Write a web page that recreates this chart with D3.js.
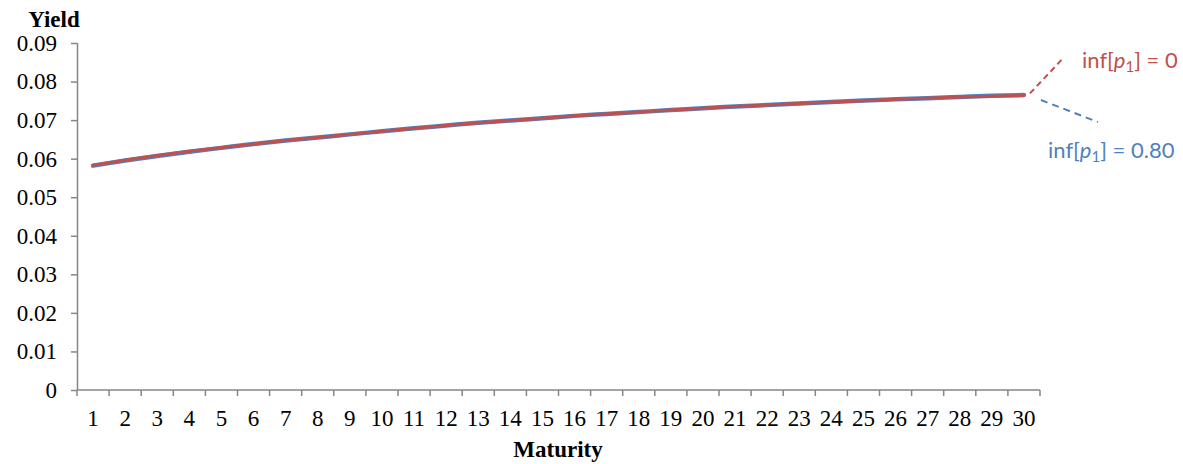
<!DOCTYPE html>
<html>
<head>
<meta charset="utf-8">
<script src="https://cdn.jsdelivr.net/npm/d3@7/dist/d3.min.js"></script>
<style>
  html, body { margin: 0; padding: 0; background: #fff; }
  svg { display: block; }
</style>
</head>
<body>
<svg id="chart" width="1183" height="464"></svg>
<script>
// ---- data ----
const maturities = d3.range(1, 31);
const yieldRed = [0.0583,0.0596,0.0608,0.0619,0.0629,0.0638,0.0647,0.0655,0.0663,0.0671,
                  0.0679,0.0686,0.0693,0.0699,0.0705,0.0711,0.0716,0.0721,0.0726,0.0731,
                  0.0735,0.0739,0.0743,0.0747,0.0750,0.0754,0.0757,0.0760,0.0762,0.0764];
const yieldBlue = [0.0582,0.0595,0.0607,0.0618,0.0628,0.0638,0.0647,0.0655,0.0663,0.0671,
                   0.0679,0.0686,0.0693,0.0699,0.0705,0.0711,0.0716,0.0721,0.0726,0.0731,
                   0.0735,0.0739,0.0743,0.0747,0.0751,0.0754,0.0757,0.0760,0.0763,0.0765];
const yTicks = [0,0.01,0.02,0.03,0.04,0.05,0.06,0.07,0.08,0.09];
const yTickLabels = ["0","0.01","0.02","0.03","0.04","0.05","0.06","0.07","0.08","0.09"];
const labelRed = "0";
const labelBlue = "0.80";

// ---- layout ----
const svg = d3.select("#chart");
const mLeft = 77, mRight = 1040, mTop = 43, mBottom = 390;
const axisColor = "#868686";
const serif = "'Liberation Serif', 'Times New Roman', serif";
const sans = "Lato, 'Open Sans', sans-serif";
const red = "#C0504D", blue = "#4F81BD";

const x = d3.scaleBand().domain(maturities).range([mLeft, mRight]).padding(0);
const y = d3.scaleLinear().domain([0, 0.09]).range([mBottom, mTop]);

// y axis
const yAxis = svg.append("g").attr("transform", `translate(${mLeft},0)`)
  .call(d3.axisLeft(y).tickValues(yTicks).tickFormat((d,i) => yTickLabels[i]).tickSizeOuter(0).tickSize(6).tickPadding(14));
yAxis.select(".domain").attr("stroke", axisColor).attr("stroke-width", 1.5)
  .attr("d", `M0.5,${mTop}V${mBottom}`);
yAxis.selectAll(".tick line").attr("stroke", axisColor).attr("stroke-width", 1.5);
yAxis.selectAll(".tick text").attr("font-family", serif).attr("font-size", 23).attr("fill", "#000");

// x axis with ticks at category boundaries
const xAxisG = svg.append("g").attr("transform", `translate(0,${mBottom})`);
xAxisG.append("line").attr("x1", mLeft).attr("x2", mRight).attr("y1", 0).attr("y2", 0)
  .attr("stroke", axisColor).attr("stroke-width", 1.5);
const bounds = maturities.map(m => x(m)).concat([mRight]);
xAxisG.selectAll("line.tk").data(bounds).join("line").attr("class","tk")
  .attr("x1", d => d).attr("x2", d => d).attr("y1", 0).attr("y2", 6)
  .attr("stroke", axisColor).attr("stroke-width", 1.5);
xAxisG.selectAll("text").data(maturities).join("text")
  .attr("x", d => x(d) + x.bandwidth()/2).attr("y", 36)
  .attr("text-anchor", "middle").attr("font-family", serif).attr("font-size", 23)
  .text(d => d);

// axis titles
svg.append("text").attr("x", 54).attr("y", 27).attr("text-anchor","middle")
  .attr("font-family", serif).attr("font-weight","bold").attr("font-size", 23).text("Yield");
svg.append("text").attr("x", 558).attr("y", 457).attr("text-anchor","middle")
  .attr("font-family", serif).attr("font-weight","bold").attr("font-size", 23).text("Maturity");

// lines
const line = d3.line().x((d,i) => x(maturities[i]) + x.bandwidth()/2).y(d => y(d)).curve(d3.curveMonotoneX);
svg.append("path").datum(yieldBlue).attr("d", line).attr("fill","none")
  .attr("stroke", blue).attr("stroke-width", 4.5).attr("stroke-linecap","round");
svg.append("path").datum(yieldRed).attr("d", line).attr("fill","none")
  .attr("stroke", red).attr("stroke-width", 3).attr("stroke-linecap","round");

// annotations
const ex = x(maturities[29]) + x.bandwidth()/2;
const eyR = y(yieldRed[29]), eyB = y(yieldBlue[29]);
svg.append("line").attr("x1", ex + 6).attr("y1", eyR - 2).attr("x2", ex + 38).attr("y2", eyR - 36)
  .attr("stroke", red).attr("stroke-width", 2).attr("stroke-dasharray", "6,4");
svg.append("line").attr("x1", ex + 17).attr("y1", eyB + 5).attr("x2", ex + 74).attr("y2", eyB + 27)
  .attr("stroke", blue).attr("stroke-width", 2).attr("stroke-dasharray", "7,5");

function infLabel(xp, yp, color, val) {
  const t = svg.append("text").attr("x", xp).attr("y", yp).attr("font-family", sans)
    .attr("font-size", 22).attr("fill", color);
  t.append("tspan").text("inf[");
  t.append("tspan").attr("font-style","italic").text("p");
  t.append("tspan").attr("font-size", 15).attr("dy", 4).text("1");
  t.append("tspan").attr("dy", -4).text("] = " + val);
}
infLabel(1082, 68, red, labelRed);
infLabel(1048, 158, blue, labelBlue);
</script>
</body>
</html>
